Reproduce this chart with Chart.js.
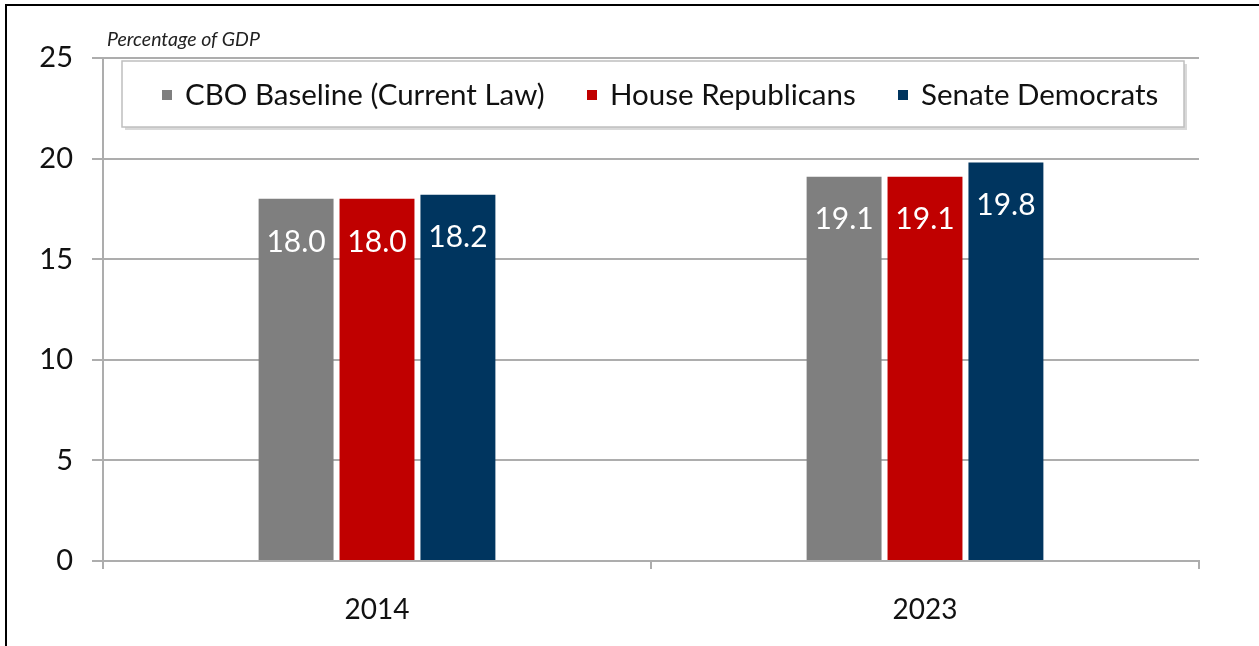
<!DOCTYPE html>
<html>
<head>
<meta charset="utf-8">
<script src="https://cdn.jsdelivr.net/npm/chart.js@4.4.1/dist/chart.umd.min.js"></script>
<style>
  html, body { margin: 0; padding: 0; background: #fff; }
  #wrap { position: relative; width: 1259px; height: 646px; }
  #frame { position: absolute; left: 5px; top: 4px; right: 0; bottom: 0; border-left: 2px solid #000; border-top: 2px solid #000; pointer-events: none; }
  canvas { position: absolute; left: 0; top: 0; }
</style>
</head>
<body>
<div id="wrap">
  <canvas id="c" width="1259" height="646"></canvas>
  <div id="frame"></div>
</div>
<script>
const categories = ["2014", "2023"];
const seriesNames = ["CBO Baseline (Current Law)", "House Republicans", "Senate Democrats"];
const cboBaseline = [18.0, 19.1];
const houseRepublicans = [18.0, 19.1];
const senateDemocrats = [18.2, 19.8];
const yTicks = [0, 5, 10, 15, 20, 25];
const unitLabel = "Percentage of GDP";
const colors = ["#7f7f7f", "#c00000", "#00355f"];

const FONT = "Lato, 'Open Sans', sans-serif";

const labelPlugin = {
  id: 'valueLabels',
  afterDatasetsDraw(chart) {
    const ctx = chart.ctx;
    ctx.save();
    ctx.fillStyle = '#fff';
    ctx.font = '30px ' + FONT;
    ctx.textAlign = 'center';
    ctx.textBaseline = 'middle';
    chart.data.datasets.forEach((ds, i) => {
      const meta = chart.getDatasetMeta(i);
      meta.data.forEach((bar, j) => {
        ctx.fillText(ds.data[j].toFixed(1), bar.x, bar.y + 43);
      });
    });
    ctx.restore();
  }
};

const legendPlugin = {
  id: 'boxLegend',
  afterDraw(chart) {
    const ctx = chart.ctx;
    const area = chart.chartArea;
    ctx.save();
    // unit label
    ctx.fillStyle = '#222';
    ctx.font = 'italic 19.5px ' + FONT;
    ctx.textAlign = 'left';
    ctx.textBaseline = 'middle';
    ctx.fillText(unitLabel, area.left + 4, 40);
    // legend box
    const bx = 122, by = 61, bw = 1062, bh = 66;
    ctx.fillStyle = '#d9d9d9';
    ctx.fillRect(bx + 3, by + 3, bw, bh);
    ctx.fillStyle = '#fff';
    ctx.fillRect(bx, by, bw, bh);
    ctx.strokeStyle = '#bfbfbf';
    ctx.lineWidth = 1.5;
    ctx.strokeRect(bx, by, bw, bh);
    const starts = [162, 587, 898];
    ctx.font = '29.5px ' + FONT;
    chart.data.datasets.forEach((ds, i) => {
      ctx.fillStyle = ds.backgroundColor;
      ctx.fillRect(starts[i], 90, 10, 10);
      ctx.fillStyle = '#111';
      ctx.fillText(ds.label, starts[i] + 23, 95);
    });
    ctx.restore();
  }
};

new Chart(document.getElementById('c'), {
  type: 'bar',
  data: {
    labels: categories,
    datasets: [
      { label: seriesNames[0], data: cboBaseline, backgroundColor: colors[0] },
      { label: seriesNames[1], data: houseRepublicans, backgroundColor: colors[1] },
      { label: seriesNames[2], data: senateDemocrats, backgroundColor: colors[2] }
    ]
  },
  options: {
    responsive: false,
    animation: false,
    events: [],
    layout: { padding: { left: 0, top: 58, right: 60, bottom: 0 } },
    datasets: { bar: { categoryPercentage: 0.443, barPercentage: 0.926 } },
    plugins: { legend: { display: false }, tooltip: { enabled: false } },
    scales: {
      x: {
        offset: true,
        grid: { offset: true, drawOnChartArea: false, drawTicks: true, tickLength: 8, color: '#adadad', lineWidth: 2 },
        border: { color: '#adadad', width: 2 },
        ticks: { color: '#111', font: { family: FONT, size: 28 }, padding: 24 },
        afterFit(s) { s.height = 646 - 561; }
      },
      y: {
        min: 0, max: 25,
        afterBuildTicks(s) { s.ticks = yTicks.map(v => ({ value: v })); },
        grid: { color: '#adadad', lineWidth: 2, tickLength: 11 },
        border: { color: '#adadad', width: 2 },
        ticks: { color: '#111', font: { family: FONT, size: 29 }, padding: 19 },
        afterFit(s) { s.width = 103; }
      }
    }
  },
  plugins: [labelPlugin, legendPlugin]
});
</script>
</body>
</html>
